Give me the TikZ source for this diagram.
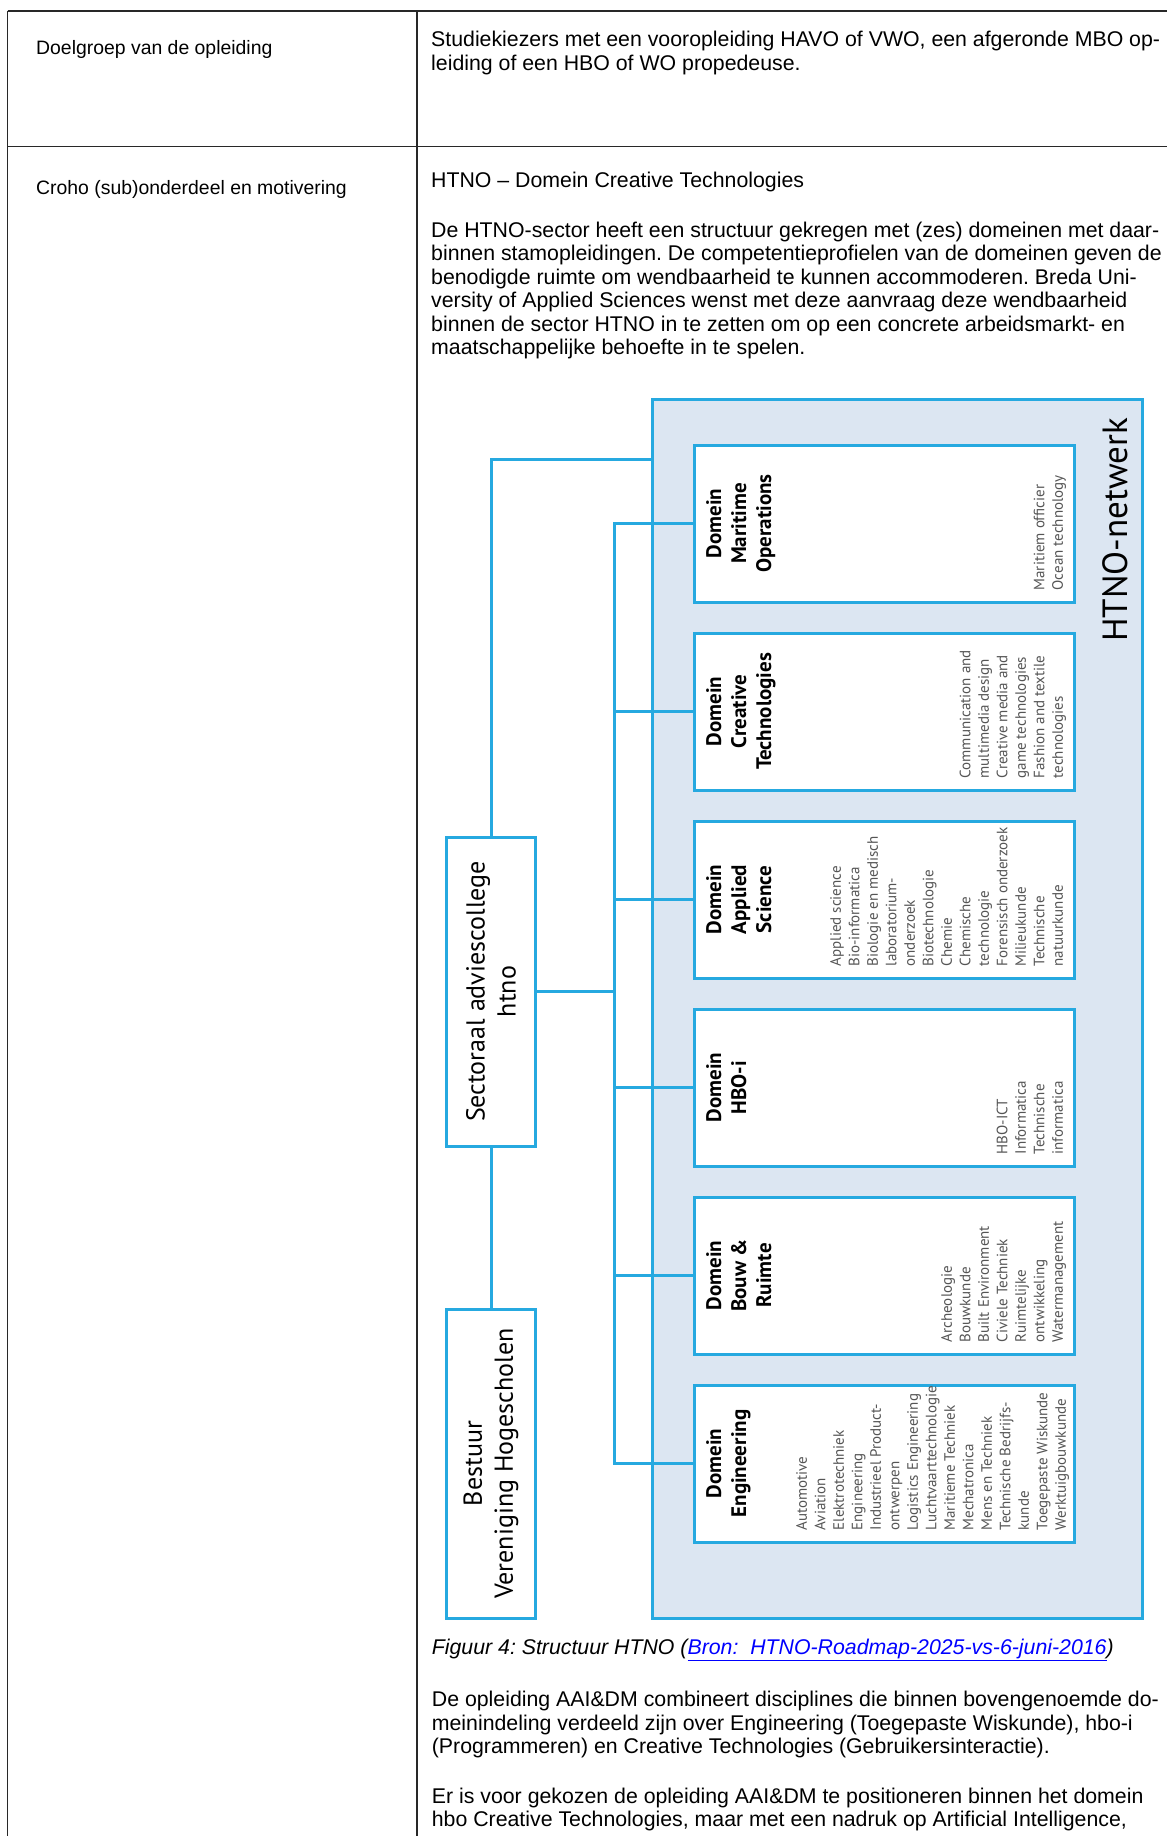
\documentclass[tikz,border=0pt]{standalone}
\usepackage{fontspec}
\setmainfont{Liberation Sans}
\newfontfamily\dfont{PT Sans}
\definecolor{hblue}{RGB}{38,169,224}
\definecolor{hfill}{RGB}{220,230,242}
\definecolor{itemgray}{RGB}{85,85,85}
\definecolor{rulecol}{RGB}{40,40,40}
\definecolor{linkblue}{RGB}{0,0,255}
\frenchspacing
\begin{document}
\begin{tikzpicture}[x=1pt,y=-1pt,
  tline/.style={draw=rulecol,line width=1.3pt},
  body/.style={anchor=base west,inner sep=0pt,font=\fontsize{21.3}{23.4}\selectfont},
  lefttxt/.style={anchor=base west,inner sep=0pt,font=\fontsize{19.4}{22}\selectfont},
  conn/.style={draw=hblue,line width=3pt},
  netbox/.style={draw=hblue,line width=3pt,fill=hfill,minimum width=490pt,minimum height=1219pt,inner sep=0pt},
  dombox/.style={draw=hblue,line width=3pt,fill=white,minimum width=380pt,minimum height=157pt,inner sep=0pt},
  sidebox/.style={draw=hblue,line width=3pt,fill=white,minimum width=89pt,minimum height=309pt,inner sep=0pt},
  dtitle/.style={rotate=90,anchor=north,inner sep=0pt,align=center,font=\dfont\bfseries\fontsize{21}{25}\selectfont},
  ditems/.style={rotate=90,anchor=south west,inner sep=0pt,align=left,text depth=0pt,text=itemgray,font=\dfont\fontsize{15}{18.5}\selectfont},
  sidetext/.style={rotate=90,inner sep=0pt,align=center,font=\dfont\fontsize{26}{31}\selectfont},
  netlabel/.style={rotate=90,anchor=base west,inner sep=0pt,font=\dfont\fontsize{35}{40}\selectfont},
]
\useasboundingbox (0,0) rectangle (1167,1836);
\fill[white] (0,0) rectangle (1167,1836);

% table
\draw[tline] (7.5,11) -- (1167,11);
\draw[tline] (7.5,11) -- (7.5,1836);
\draw[tline] (417,11) -- (417,1836);
\draw[tline] (7.5,146.5) -- (1167,146.5);

% left column
\node[lefttxt] (lab1) at (36,55) {Doelgroep van de opleiding};
\node[lefttxt] (lab2) at (36,194) {Croho (sub)onderdeel en motivering};

% right column, row 1
\node[body] (r1a) at (431,47) {Studiekiezers met een vooropleiding HAVO of VWO, een afgeronde MBO op-};
\node[body] (r1b) at (431,70.4) {leiding of een HBO of WO propedeuse.};

% right column, row 2
\node[body] (r2h) at (431,187) {HTNO – Domein Creative Technologies};
\foreach \t [count=\i] in {%
  {De HTNO-sector heeft een structuur gekregen met (zes) domeinen met daar-},
  {binnen stamopleidingen. De competentieprofielen van de domeinen geven de},
  {benodigde ruimte om wendbaarheid te kunnen accommoderen. Breda Uni-},
  {versity of Applied Sciences wenst met deze aanvraag deze wendbaarheid},
  {binnen de sector HTNO in te zetten om op een concrete arbeidsmarkt- en},
  {maatschappelijke behoefte in te spelen.}}
  \node[body] (pa\i) at (431,{237.5+23.4*(\i-1)}) {\t};

% diagram
\node[netbox] (net) at (897,1008.5) {};
\coordinate (bus) at (614,0);
\coordinate (netin) at (0,459);

\node[sidebox] (sect) at (491,991.5) {};
\node[sidebox] (best) at (491,1463.5) {};

\node[dombox] (mar)  at (884,523.5) {};
\node[dombox] (cre)  at (884,711.5) {};
\node[dombox] (app)  at (884,899.5) {};
\node[dombox] (hboi) at (884,1087.5) {};
\node[dombox] (bouw) at (884,1275.5) {};
\node[dombox] (eng)  at (884,1463.5) {};

\draw[conn] (mar.west) -- (mar.west -| bus) -- (eng.west -| bus) -- (eng.west);
\foreach \b in {cre,app,hboi,bouw}
  \draw[conn] (\b.west -| bus) -- (\b.west);
\draw[conn] (sect.east) -- (sect.east -| bus);
\draw[conn] (sect.north) |- (net.west |- netin);
\draw[conn] (sect.south) -- (best.north);

\node[netlabel] (netT) at (1127,642) {HTNO-netwerk};

\node[sidetext] (sectT) at (sect.center) {Sectoraal adviescollege\\htno};
\node[sidetext] (bestT) at (best.center) {Bestuur\\Vereniging Hogescholen};

\node[dtitle] (marT)  at (706,523.5) {Domein\\Maritime\\Operations};
\node[dtitle] (creT)  at (706,711.5) {Domein\\Creative\\Technologies};
\node[dtitle] (appT)  at (706,899.5) {Domein\\Applied\\Science};
\node[dtitle] (hboiT) at (706,1087.5) {Domein\\HBO-i};
\node[dtitle] (bouwT) at (706,1275.5) {Domein\\Bouw \&\\Ruimte};
\node[dtitle] (engT)  at (706,1463.5) {Domein\\Engineering};

\node[ditems] (marI)  at (1063,590.5) {Maritiem officier\\Ocean technology};
\node[ditems] (creI)  at (1063,778.5) {Communication and\\multimedia design\\Creative media and\\game technologies\\Fashion and textile\\technologies};
\node[ditems] (appI)  at (1063,966.5) {Applied science\\Bio-informatica\\Biologie en medisch\\laboratorium-\\onderzoek\\Biotechnologie\\Chemie\\Chemische\\technologie\\Forensisch onderzoek\\Milieukunde\\Technische\\natuurkunde};
\node[ditems] (hboiI) at (1063,1154.5) {HBO-ICT\\Informatica\\Technische\\informatica};
\node[ditems] (bouwI) at (1063,1342.5) {Archeologie\\Bouwkunde\\Built Environment\\Civiele Techniek\\Ruimtelijke\\ontwikkeling\\Watermanagement};
\node[ditems] (engI)  at (1066,1530.5) {Automotive\\Aviation\\Elektrotechniek\\Engineering\\Industrieel Product-\\ontwerpen\\Logistics Engineering\\Luchtvaarttechnologie\\Maritieme Techniek\\Mechatronica\\Mens en Techniek\\Technische Bedrijfs-\\kunde\\Toegepaste Wiskunde\\Werktuigbouwkunde};

% caption and following text
\node[body,font=\itshape\fontsize{21.3}{23.4}\selectfont] (cap) at (431.7,1654) {Figuur 4: Structuur HTNO (\textcolor{linkblue}{\underline{Bron:\ \ HTNO-Roadmap-2025-vs-6-juni-2016}})};
\foreach \t [count=\i] in {%
  {De opleiding AAI\&DM combineert disciplines die binnen bovengenoemde do-},
  {meinindeling verdeeld zijn over Engineering (Toegepaste Wiskunde), hbo-i},
  {(Programmeren) en Creative Technologies (Gebruikersinteractie).}}
  \node[body] (pb\i) at (431.7,{1706.7+23.4*(\i-1)}) {\t};
\node[body] (pc1) at (431.7,1803.3) {Er is voor gekozen de opleiding AAI\&DM te positioneren binnen het domein};
\node[body] (pc2) at (431.7,1826.7) {hbo Creative Technologies, maar met een nadruk op Artificial Intelligence,};
\end{tikzpicture}
\end{document}
